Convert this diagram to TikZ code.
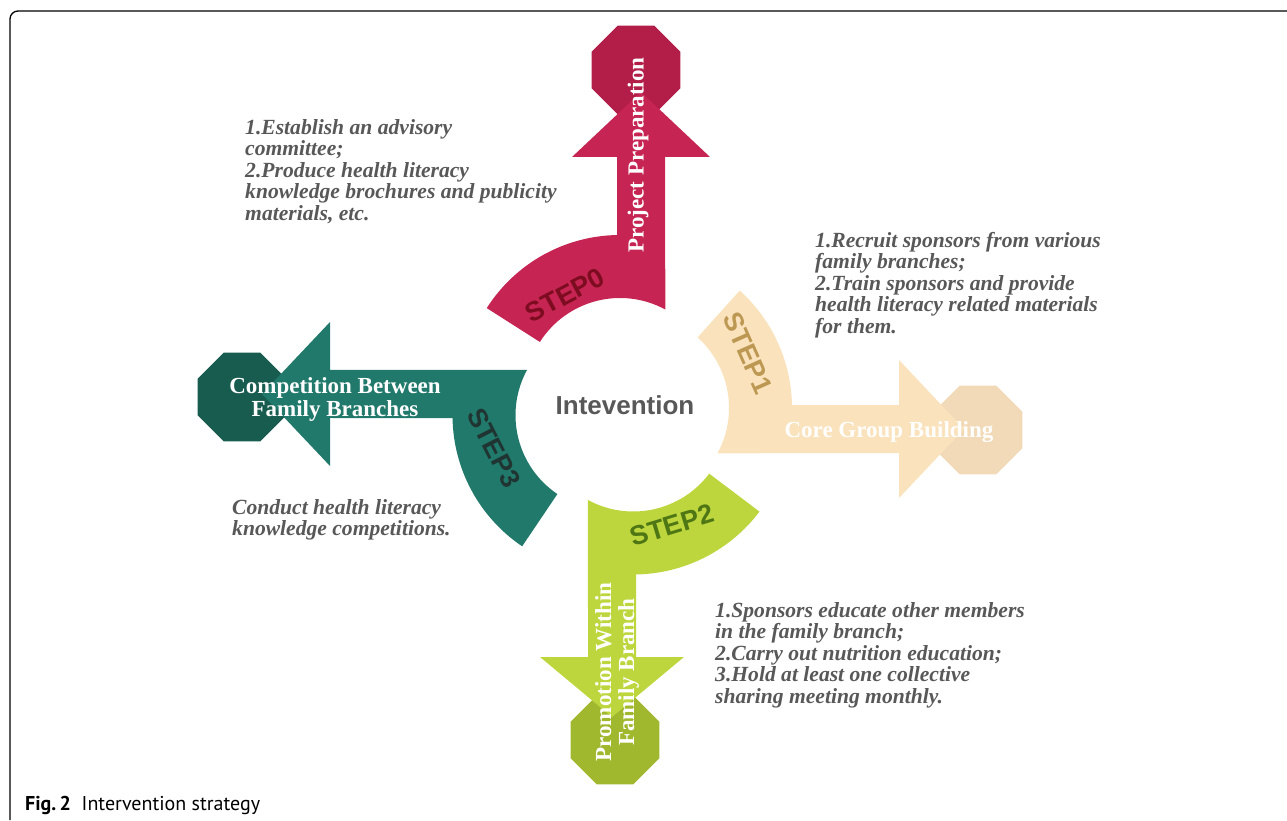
\documentclass[tikz,border=0pt]{standalone}
\usepackage{fontspec}
\setmainfont{Liberation Serif}
\newfontfamily\arialfont{Liberation Sans}
\newfontfamily\captionfont{PT Sans}
\usepackage{tikz}
\usetikzlibrary{shapes.geometric}

\definecolor{prepred}{RGB}{198,36,82}
\definecolor{prepoct}{RGB}{178,30,72}
\definecolor{prepdark}{RGB}{125,12,32}
\definecolor{corebeige}{RGB}{250,226,188}
\definecolor{coreoct}{RGB}{242,218,184}
\definecolor{coredark}{RGB}{188,152,82}
\definecolor{promgreen}{RGB}{190,214,62}
\definecolor{promoct}{RGB}{160,184,46}
\definecolor{promdark}{RGB}{78,118,20}
\definecolor{compteal}{RGB}{33,121,108}
\definecolor{compoct}{RGB}{24,92,80}
\definecolor{compdark}{RGB}{32,52,50}
\definecolor{notegray}{RGB}{88,88,88}

\begin{document}
\begin{tikzpicture}[x=1pt, y=1pt]
    % Define styles
    \tikzstyle{octagon} = [regular polygon, regular polygon sides=8,
        minimum size=96pt, inner sep=0pt]
    \tikzstyle{armlabel} = [text=white, align=center,
        font=\fontsize{23}{23}\selectfont\bfseries]
    \tikzstyle{steplabel} = [font=\arialfont\fontsize{27}{27}\selectfont\bfseries]
    \tikzstyle{note} = [anchor=north west, align=left, inner sep=0pt, text=notegray,
        font=\fontsize{21.6}{21.5}\selectfont\bfseries\itshape]

    \useasboundingbox (0,0) rectangle (1287,820);

    % Frame
    \draw [line width=1.3pt, rounded corners=8pt] (10,0) -- (10,809) -- (1287,809);

    % Centres of the curved parts
    \coordinate (c0) at (620,427);
    \coordinate (c1) at (634,412);
    \coordinate (c2) at (633.3,403.5);
    \coordinate (c3) at (610.5,404.7);

    % Octagons
    \node [octagon, fill=prepoct] (oct0) at (636,750) {};
    \node [octagon, fill=coreoct] (oct1) at (978,390) {};
    \node [octagon, fill=promoct] (oct2) at (615,80) {};
    \node [octagon, fill=compoct] (oct3) at (242,423) {};

    % Bent arrows
    \fill [prepred] ([shift={(61.5:95)}]c0) arc[start angle=61.5, end angle=147.5, radius=95]
        -- ([shift={(147.5:158)}]c0) arc[start angle=147.5, end angle=91, radius=158]
        -- (617,663) -- (572,663) -- (641,728) -- (710,663) -- (665,663) -- cycle;
    \fill [corebeige] ([shift={(-28.5:95)}]c1) arc[start angle=-28.5, end angle=48, radius=95]
        -- ([shift={(48:158)}]c1) arc[start angle=48, end angle=1, radius=158]
        -- (899,415) -- (899,460) -- (964,391) -- (899,322) -- (899,367) -- cycle;
    \fill [promgreen] ([shift={(-118.5:95)}]c2) arc[start angle=-118.5, end angle=-37, radius=95]
        -- ([shift={(-37:158)}]c2) arc[start angle=-37, end angle=-89, radius=158]
        -- (636,163) -- (684,163) -- (612,103) -- (540,163) -- (588,163) -- cycle;
    \fill [compteal] ([shift={(151.5:95)}]c3) arc[start angle=151.5, end angle=236, radius=95]
        -- ([shift={(236:158)}]c3) arc[start angle=236, end angle=181, radius=158]
        -- (330,402) -- (330,354) -- (262,426) -- (330,498) -- (330,450) -- cycle;

    % Place nodes
    \node [text=notegray, font=\arialfont\fontsize{26}{26}\selectfont\bfseries] (center) at (625,415) {Intevention};

    \node [steplabel, text=prepdark, rotate=28] (step0) at (565,525) {STEP0};
    \node [steplabel, text=coredark, rotate=-66] (step1) at (748,467) {STEP1};
    \node [steplabel, text=promdark, rotate=17] (step2) at (672,295) {STEP2};
    \node [steplabel, text=compdark, rotate=-63] (step3) at (494,372) {STEP3};

    \node [armlabel, rotate=90] (prep) at (638,665) {Project Preparation};
    \node [armlabel] (core) at (889,388) {Core Group Building};
    \node [armlabel, rotate=90] (prom) at (617,148) {Promotion Within\\Family Branch};
    \node [armlabel] (comp) at (335,420) {Competition Between\\Family Branches};

    \node [note] (prepnote) at (245,701) {1.Establish an advisory\\committee;\\2.Produce health literacy\\knowledge brochures and publicity\\materials, etc.};
    \node [note] (corenote) at (815,588) {1.Recruit sponsors from various\\family branches;\\2.Train sponsors and provide\\health literacy related materials\\for them.};
    \node [note] (promnote) at (715,218) {1.Sponsors educate other members\\in the family branch;\\2.Carry out nutrition education;\\3.Hold at least one collective\\sharing meeting monthly.};
    \node [note] (compnote) at (232,321) {Conduct health literacy\\knowledge competitions.};

    % Caption
    \node [anchor=base west, inner sep=0pt, font=\captionfont\fontsize{20}{20}\selectfont] (caption) at (25,10) {\textbf{Fig.\,2}\ \ Intervention strategy};
\end{tikzpicture}
\end{document}
